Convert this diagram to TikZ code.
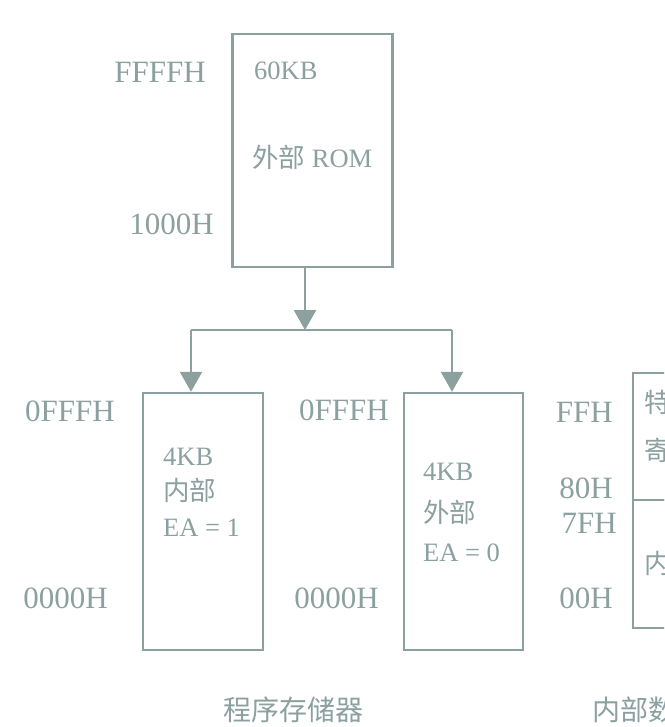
\documentclass[tikz,border=0pt]{standalone}
\usepackage{fontspec}
\setmainfont{Liberation Serif}
\newfontfamily\cjk{Noto Sans CJK SC}
\usetikzlibrary{arrows.meta}
\definecolor{ink}{RGB}{140,160,160}
\begin{document}
\begin{tikzpicture}[x=1pt,y=-1pt,
  box/.style={draw=ink,line width=2.5pt,rectangle,inner sep=0pt},
  addr/.style={text=ink,inner sep=0pt,font=\fontsize{31}{34}\selectfont},
  btxt/.style={text=ink,inner sep=0pt,anchor=west,font=\fontsize{26.5}{30}\selectfont},
  captxt/.style={text=ink,inner sep=0pt,anchor=west,font=\cjk\fontsize{28}{32}\selectfont},
  arr/.style={draw=ink,line width=2.5pt,-{Triangle[width=22pt,length=20pt]}},
  ln/.style={draw=ink,line width=2.5pt}]
\useasboundingbox (0,0) rectangle (664,727);
\clip (0,0) rectangle (664,727);
\fill[white] (0,0) rectangle (664,727);
% boxes
\node[box,minimum width=160pt,minimum height=233pt] (rom) at (312.5,150.5) {};
\node[box,minimum width=120pt,minimum height=257pt] (int) at (203,521.5) {};
\node[box,minimum width=119pt,minimum height=257pt] (ext) at (463.5,521.5) {};
\node[box,minimum width=130pt,minimum height=127pt] (sfr) at (698,436.5) {};
\node[box,minimum width=130pt,minimum height=128pt] (ram) at (698,564) {};
% connectors
\coordinate (j) at (305,330);
\coordinate (jl) at (191,330);
\coordinate (jr) at (452,330);
\draw[arr] (rom.south -| j) -- (j);
\draw[ln] (jl) -- (jr);
\draw[arr] (jl) -- (jl |- int.north);
\draw[arr] (jr) -- (jr |- ext.north);
% address labels
\node[addr,anchor=east] (a1) at (206,72) {FFFFH};
\node[addr,anchor=east] (a2) at (214,224) {1000H};
\node[addr,anchor=east] (a3) at (115,411) {0FFFH};
\node[addr,anchor=east] (a4) at (108,598) {0000H};
\node[addr,anchor=east] (a5) at (389,410) {0FFFH};
\node[addr,anchor=east] (a6) at (379,598) {0000H};
\node[addr,anchor=east] (a7) at (613,412) {FFH};
\node[addr,anchor=east] (a8) at (613,488) {80H};
\node[addr,anchor=east] (a9) at (617,523) {7FH};
\node[addr,anchor=east] (a10) at (613,598) {00H};
% box texts
\node[btxt] (t1) at (254,71) {60KB};
\node[btxt] (t2) at (252,157) {{\cjk 外部} ROM};
\node[btxt] (t3) at (163,457) {4KB};
\node[btxt] (t4) at (163,490) {\cjk 内部};
\node[btxt] (t5) at (163,528) {EA = 1};
\node[btxt] (t6) at (423,472) {4KB};
\node[btxt] (t7) at (423,512) {\cjk 外部};
\node[btxt] (t8) at (423,553) {EA = 0};
\node[btxt] (t9) at (644,402) {\cjk 特殊功能};
\node[btxt] (t10) at (644,450) {\cjk 寄存器};
\node[btxt] (t11) at (644,563) {\cjk 内部RAM};
% captions
\node[captxt] (c1) at (223,710) {程序存储器};
\node[captxt] (c2) at (592,710) {内部数据存储器};
\end{tikzpicture}
\end{document}
